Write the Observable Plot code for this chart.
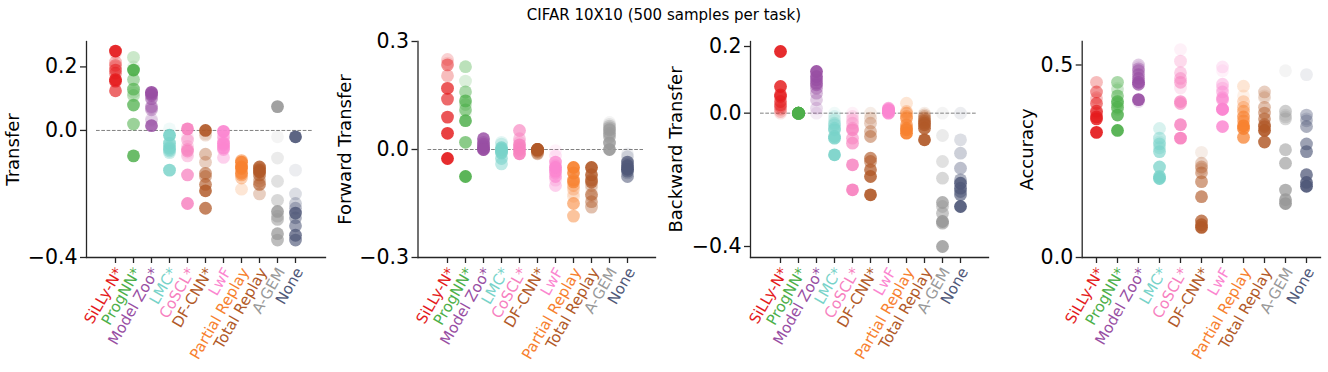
<!DOCTYPE html>
<html>
<head>
<meta charset="utf-8">
<script src="https://cdn.jsdelivr.net/npm/d3@7"></script>
<script src="https://cdn.jsdelivr.net/npm/@observablehq/plot@0.6"></script>
<style>
  body { margin: 0; background: #fff; }
  #wrap { position: relative; width: 1328px; height: 372px; overflow: hidden; font-family: "DejaVu Sans", sans-serif; background: #fff; }
  #title { position: absolute; left: 0; top: 5px; width: 1328px; text-align: center; font-size: 15px; line-height: 20px; color: #000; z-index: 5; }
</style>
</head>
<body>
<div id="wrap"><div id="title">CIFAR 10X10 (500 samples per task)</div></div>
<script>
const methods = ["SiLLy-N*", "ProgNN*", "Model Zoo*", "LMC*", "CoSCL*", "DF-CNN*", "LwF", "Partial Replay", "Total Replay", "A-GEM", "None"];
const methodColors = ["#e41a1c", "#4daf4a", "#984ea3", "#78d3c9", "#f781bf", "#b15928", "#fb86d0", "#f7812f", "#b15928", "#999999", "#4f5878"];
const tasks = [1, 2, 3, 4, 5, 6, 7, 8, 9, 10];

// values per method, task 1..10
const transferVals = [
  [0.25, 0.16, 0.155, 0.125, 0.19, 0.18, 0.205, 0.215, 0.245, 0.20],
  [0.19, -0.08, 0.08, 0.13, 0.02, 0.16, 0.11, 0.23, 0.12, 0.20],
  [0.12, 0.015, 0.115, 0.11, 0.10, 0.075, 0.065, 0.07, 0.035, 0.03],
  [-0.015, -0.125, -0.04, -0.055, -0.06, -0.065, -0.07, -0.05, -0.045, 0.005],
  [0.005, -0.23, -0.14, -0.065, -0.06, -0.03, -0.08, -0.05, -0.02, -0.07],
  [0.0, -0.19, -0.245, -0.17, -0.135, -0.145, -0.075, -0.1, -0.015, -0.01],
  [-0.003, -0.04, -0.055, -0.045, -0.06, -0.02, -0.085, -0.03, -0.015, -0.05],
  [-0.115, -0.1, -0.12, -0.135, -0.095, -0.14, -0.15, -0.13, -0.185, -0.11],
  [-0.13, -0.115, -0.125, -0.17, -0.14, -0.12, -0.16, -0.2, -0.15, -0.14],
  [0.075, -0.255, -0.325, -0.345, -0.28, -0.27, -0.22, -0.16, -0.087, -0.02],
  [-0.02, -0.26, -0.33, -0.345, -0.3, -0.275, -0.245, -0.23, -0.2, -0.125]
];
const forwardVals = [
  [-0.025, 0.045, 0.09, 0.14, 0.17, 0.235, 0.17, 0.205, 0.25, 0.24],
  [-0.075, 0.08, 0.135, 0.02, 0.11, 0.16, 0.23, 0.125, 0.19, 0.10],
  [0.0, 0.03, 0.005, 0.015, 0.01, 0.02, 0.0, 0.01, 0.005, 0.0],
  [0.0, 0.005, -0.007, -0.01, -0.025, -0.04, -0.005, 0.015, 0.02, -0.02],
  [-0.012, 0.013, 0.0, 0.053, 0.005, 0.03, -0.005, 0.02, 0.01, 0.0],
  [0.0, 0.0, 0.0, -0.002, 0.0, -0.005, -0.01, -0.012, -0.005, -0.008],
  [-0.05, -0.06, -0.035, -0.075, -0.065, -0.045, -0.1, -0.085, -0.018, -0.003],
  [-0.05, -0.065, -0.09, -0.085, -0.15, -0.185, -0.1, -0.11, -0.13, -0.12],
  [-0.05, -0.07, -0.09, -0.085, -0.125, -0.145, -0.16, -0.1, -0.13, -0.11],
  [0.0, 0.018, 0.055, 0.045, 0.035, 0.06, 0.065, 0.04, 0.07, 0.075],
  [-0.055, -0.045, -0.035, -0.06, -0.075, -0.05, -0.04, -0.065, -0.02, -0.012]
];
const backwardVals = [
  [0.185, 0.08, 0.055, 0.05, 0.035, 0.025, 0.02, 0.012, 0.005, 0.0],
  [0.0, 0.0, 0.0, 0.0, 0.0, 0.0, 0.0, 0.0, 0.0, 0.0],
  [0.125, 0.11, 0.1, 0.09, 0.085, 0.075, 0.06, 0.04, 0.015, 0.0],
  [-0.125, -0.075, -0.07, -0.05, -0.045, -0.035, -0.03, -0.02, -0.01, 0.0],
  [-0.23, -0.155, -0.05, -0.09, -0.075, -0.045, -0.03, -0.02, -0.01, 0.0],
  [-0.245, -0.19, -0.17, -0.135, -0.145, -0.07, -0.055, -0.03, -0.015, 0.0],
  [0.005, 0.0, 0.01, 0.015, 0.012, 0.008, 0.01, 0.005, 0.002, 0.0],
  [-0.06, -0.05, -0.045, -0.035, -0.015, -0.01, 0.0, 0.005, 0.03, 0.0],
  [-0.08, -0.045, -0.035, -0.03, -0.025, -0.02, -0.015, -0.01, -0.005, 0.0],
  [-0.325, -0.4, -0.268, -0.33, -0.3, -0.28, -0.195, -0.145, -0.067, 0.0],
  [-0.28, -0.21, -0.225, -0.245, -0.235, -0.2, -0.165, -0.12, -0.08, 0.0]
];
const accuracyVals = [
  [0.325, 0.36, 0.365, 0.38, 0.4, 0.43, 0.375, 0.455, 0.415, 0.41],
  [0.33, 0.37, 0.405, 0.39, 0.42, 0.455, 0.4, 0.385, 0.435, 0.44],
  [0.41, 0.455, 0.45, 0.465, 0.475, 0.485, 0.49, 0.5, 0.405, 0.495],
  [0.205, 0.21, 0.235, 0.275, 0.295, 0.31, 0.285, 0.335, 0.3, 0.29],
  [0.31, 0.345, 0.405, 0.4, 0.455, 0.465, 0.48, 0.51, 0.44, 0.54],
  [0.078, 0.085, 0.095, 0.158, 0.197, 0.22, 0.235, 0.245, 0.23, 0.273],
  [0.385, 0.34, 0.385, 0.41, 0.415, 0.43, 0.45, 0.44, 0.495, 0.485],
  [0.342, 0.335, 0.312, 0.365, 0.355, 0.38, 0.39, 0.405, 0.445, 0.42],
  [0.33, 0.3, 0.34, 0.345, 0.36, 0.375, 0.39, 0.43, 0.415, 0.42],
  [0.14, 0.15, 0.175, 0.245, 0.28, 0.38, 0.36, 0.365, 0.37, 0.485],
  [0.185, 0.195, 0.215, 0.275, 0.295, 0.34, 0.37, 0.355, 0.36, 0.475]
];

const yLabels = ["Transfer", "Forward Transfer", "Backward Transfer", "Accuracy"];
const yTicks = [[-0.4, 0.0, 0.2], [-0.3, 0.0, 0.3], [-0.4, 0.0, 0.2], [0.0, 0.5]];
const yDomains = [[-0.4, 0.28], [-0.3, 0.3], [-0.433, 0.215], [0, 0.561]];
const allVals = [transferVals, forwardVals, backwardVals, accuracyVals];

// layout (pixels)
const panels = [
  {left: 0,   width: 330, ml: 86,   mr: 5,  il: 29,   ir: 30,   labelX: 13},
  {left: 330, width: 330, ml: 87.5, mr: 5,  il: 29,   ir: 27.5, labelX: 15},
  {left: 660, width: 330, ml: 90,   mr: 2,  il: 30,   ir: 28,   labelX: 16},
  {left: 990, width: 338, ml: 91.7, mr: 8,  il: 10.6, ir: 10.5, labelX: 37}
];
const zeroLine = [true, true, true, false];

const H = 372, MT = 41, MB = 372 - 257;
const wrap = document.getElementById("wrap");

allVals.forEach((vals, p) => {
  const cfg = panels[p];
  const rows = [];
  for (let t = tasks.length - 1; t >= 0; t--) {
    methods.forEach((m, i) => rows.push({method: m, task: tasks[t], value: vals[i][t], alpha: 0.92 - 0.09 * t}));
  }
  const marks = [
    Plot.frame({anchor: "left", stroke: "#262626", strokeWidth: 1.3}),
    Plot.frame({anchor: "bottom", stroke: "#262626", strokeWidth: 1.3}),
    Plot.axisY({ticks: yTicks[p], tickFormat: d3.format(".1f"), tickSize: 6, tickPadding: 3, fontSize: "20.5px", label: null, stroke: "#262626", strokeWidth: 1.3}),
    Plot.axisX({tickFormat: () => "", tickSize: 6, label: null, stroke: "#262626", strokeWidth: 1.3})
  ];
  if (zeroLine[p]) marks.push(Plot.ruleY([0], {stroke: "#808080", strokeWidth: 1, strokeDasharray: "3.7,1.6", insetLeft: 10, insetRight: 12}));
  marks.push(
    Plot.dot(rows, {x: "method", y: "value", r: 6.4, fill: "method", fillOpacity: "alpha", stroke: null}),
    Plot.text([yLabels[p]], {frameAnchor: "left", textAnchor: "middle", dx: cfg.labelX - cfg.ml, rotate: -90, fontSize: "18px", fill: "#000"}),
    Plot.text(methods, {x: d => d, frameAnchor: "bottom", fill: d => d, rotate: -60, textAnchor: "end", dx: 8, dy: 14, fontSize: "15px"})
  );
  const svg = Plot.plot({
    width: cfg.width,
    height: H,
    marginTop: MT,
    marginBottom: MB,
    marginLeft: cfg.ml,
    marginRight: cfg.mr,
    x: {type: "point", domain: methods, padding: 0, insetLeft: cfg.il, insetRight: cfg.ir},
    y: {domain: yDomains[p]},
    color: {domain: methods, range: methodColors},
    opacity: {type: "identity"},
    style: {position: "absolute", left: cfg.left + "px", top: "0px", background: "none", overflow: "visible", fontFamily: "DejaVu Sans", maxWidth: "none"},
    marks
  });
  wrap.appendChild(svg);
});
</script>
</body>
</html>
